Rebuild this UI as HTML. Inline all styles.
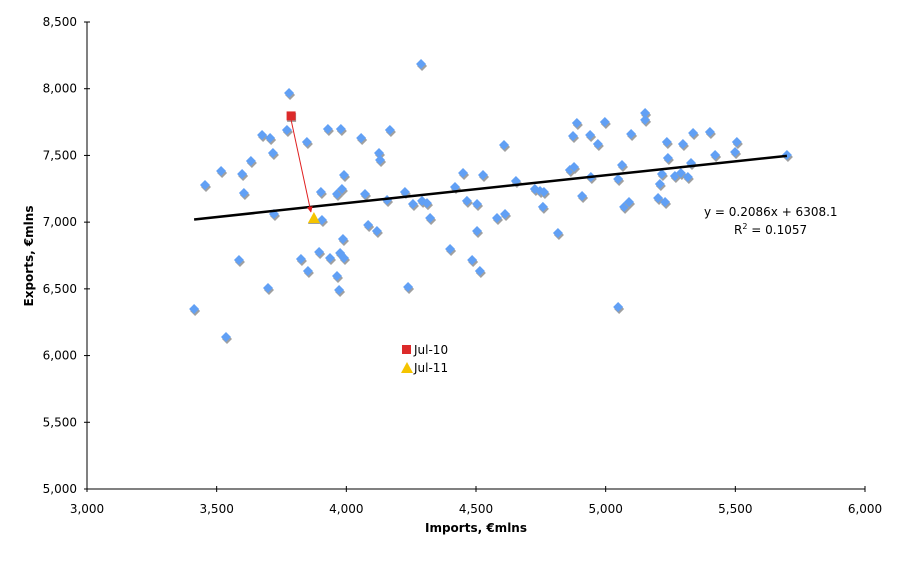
<!DOCTYPE html>
<html><head><meta charset="utf-8"><style>
html,body{margin:0;padding:0;background:#fff;}
svg text{font-family:"DejaVu Sans","Liberation Sans",sans-serif;fill:#000;}
</style></head><body>
<svg id="chart" width="908" height="558" xmlns="http://www.w3.org/2000/svg">
<defs>
<marker id="arr" viewBox="0 0 10 10" refX="9" refY="5" markerWidth="6" markerHeight="6" orient="auto"><path d="M0,0L10,5L0,10z" fill="#e02020"/></marker>
</defs>
<g id="grid"></g>
<g id="marks"></g>
</svg>
<script>
const importsX=[3413,3536,3455,3517,3598,3605,3586,3632,3675,3706,3717,3721,3698,3771,3779,3848,3825,3852,3902,3906,3895,3929,3937,3964,3983,3991,3979,3987,3976,3991,3964,3972,4057,4072,4084,4118,4126,4130,4157,4168,4226,4238,4257,4288,4292,4311,4323,4400,4419,4450,4465,4504,4527,4504,4485,4515,4581,4612,4608,4654,4727,4747,4762,4758,4816,4862,4878,4874,4889,4940,4970,4997,4909,4943,5048,5063,5071,5090,5098,5048,5152,5152,5202,5229,5209,5217,5240,5236,5267,5290,5317,5298,5329,5337,5402,5422,5499,5506,5699];
const exportsY=[6349,6139,7278,7383,7361,7218,6716,7458,7653,7631,7518,7061,6506,7691,7968,7601,6724,6634,7226,7016,6776,7698,6731,7211,7248,7353,7698,6874,6769,6731,6596,6491,7631,7211,6979,6934,7518,7466,7166,7691,7226,6514,7136,8185,7159,7143,7031,6799,7263,7368,7159,7136,7353,6934,6716,6634,7031,7061,7578,7308,7248,7233,7226,7114,6919,7391,7413,7646,7743,7653,7586,7751,7196,7338,7323,7428,7114,7151,7661,6364,7818,7766,7181,7151,7286,7361,7481,7601,7346,7368,7338,7586,7443,7668,7676,7503,7526,7601,7503];
const jul10=[3787,7796];
const jul11=[3875,7031];
const slope=0.2086, intercept=6308.1;
const xTicks=[3000,3500,4000,4500,5000,5500,6000];
const yTicks=[5000,5500,6000,6500,7000,7500,8000,8500];

const L=87,R=865,T=22,B=489;
const sx=v=>L+(v-3000)/3000*(R-L);
const sy=v=>B-(v-5000)/3500*(B-T);
const NS="http://www.w3.org/2000/svg";
const g=document.getElementById('grid'), m=document.getElementById('marks');
function mk(tag,attrs,parent,txt){const e=document.createElementNS(NS,tag);for(const k in attrs)e.setAttribute(k,attrs[k]);if(txt!==undefined)e.textContent=txt;parent.appendChild(e);return e;}
const fmt=v=>v.toLocaleString('en-US');

let e=mk('line',{x1:L,y1:T,x2:L,y2:B,stroke:'#000','stroke-width':1},g);


e=mk('line',{x1:L,y1:B,x2:R,y2:B,stroke:'#000','stroke-width':1},g);


xTicks.forEach(v=>{
  mk('line',{x1:sx(v),y1:B-3,x2:sx(v),y2:B+3,stroke:'#000'},g);
  const t=mk('text',{x:sx(v),y:B+24,'text-anchor':'middle','font-size':12},g,fmt(v));
  
  
});
yTicks.forEach(v=>{
  mk('line',{x1:L-3,y1:sy(v),x2:L+3,y2:sy(v),stroke:'#000'},g);
  const t=mk('text',{x:77,y:sy(v)+4,'text-anchor':'end','font-size':12},g,fmt(v));
  
  
});
e=mk('text',{x:476,y:532,'text-anchor':'middle','font-size':12,'font-weight':'bold'},g,'Imports, €mlns');


e=mk('text',{x:0,y:0,'text-anchor':'middle','font-size':12,'font-weight':'bold',transform:'translate(33,256) rotate(-90)'},g,'Exports, €mlns');



function diamond(x,y){return `M${x},${y-5}L${x+5},${y}L${x},${y+5}L${x-5},${y}Z`;}
importsX.forEach((v,i)=>{
  const x=sx(v),y=sy(exportsY[i]);
  mk('path',{d:diamond(x+1,y+2),fill:'#a0a0a0'},m);
  const p=mk('path',{d:diamond(x,y),fill:'#61a0f5'},m);
  
  
});
const x0=Math.min(...importsX), x1=Math.max(...importsX);
e=mk('line',{x1:sx(x0),y1:sy(slope*x0+intercept),x2:sx(x1),y2:sy(slope*x1+intercept),stroke:'#000','stroke-width':2.5},m);


const qx=sx(jul10[0]),qy=sy(jul10[1]),tx=sx(jul11[0]),ty=sy(jul11[1]);
mk('rect',{x:qx-4,y:qy-3,width:9,height:9,fill:'#a0a0a0'},m);
e=mk('rect',{x:qx-4.5,y:qy-4.5,width:9,height:9,fill:'#dc2a2a'},m);


e=mk('line',{x1:qx,y1:qy+4,x2:tx-3,y2:ty-6,stroke:'#e02020','stroke-width':1,'marker-end':'url(#arr)'},m);


mk('path',{d:`M${tx},${ty-5}L${tx+6},${ty+6}L${tx-6},${ty+6}Z`,fill:'#a0a0a0'},m);
e=mk('path',{d:`M${tx},${ty-6}L${tx+6},${ty+5}L${tx-6},${ty+5}Z`,fill:'#f5c400'},m);


e=mk('rect',{x:402,y:345,width:9,height:9,fill:'#dc2a2a'},m);


e=mk('text',{x:414,y:354,'font-size':12},m,'Jul-10');


e=mk('path',{d:'M407,362L413,373L401,373Z',fill:'#f5c400'},m);


e=mk('text',{x:414,y:372,'font-size':12},m,'Jul-11');


e=mk('text',{x:704,y:216,'font-size':12},m,'y = 0.2086x + 6308.1');


e=mk('text',{x:734,y:234,'font-size':12},m);


e.innerHTML='R<tspan dy="-5" font-size="8">2</tspan><tspan dy="5"> = 0.1057</tspan>';
</script>
</body></html>
